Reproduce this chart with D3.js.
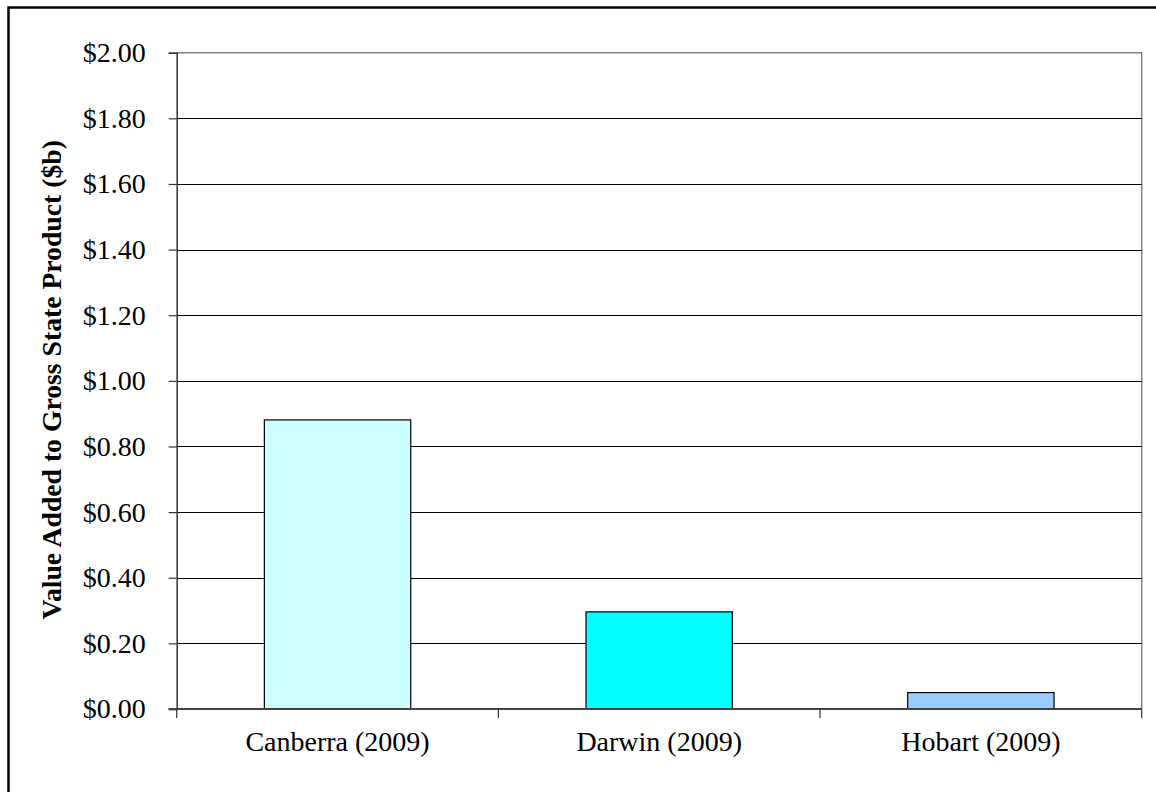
<!DOCTYPE html>
<html>
<head>
<meta charset="utf-8">
<script src="https://cdn.jsdelivr.net/npm/d3@7"></script>
<style>
  html, body { margin: 0; padding: 0; background: #fff; }
  svg { display: block; }
  text { font-family: "Liberation Serif", "Times New Roman", serif; fill: #000; }
</style>
</head>
<body>
<svg id="chart" width="1156" height="792"></svg>
<script>
// Value added to gross state product, $ billions
const categories = ["Canberra (2009)", "Darwin (2009)", "Hobart (2009)"];
const values = [0.881, 0.296, 0.050];
const barColors = ["#CCFFFF", "#00FFFF", "#99CCFF"];
const yTicks = [0, 0.2, 0.4, 0.6, 0.8, 1.0, 1.2, 1.4, 1.6, 1.8, 2.0];
const yTitle = "Value Added to Gross State Product ($b)";

const svg = d3.select("#chart");
const plot = { left: 176.7, right: 1141.7, top: 52.7, bottom: 709 };
const fontSize = 28;

// outer frame
svg.append("rect")
  .attr("x", 8.5).attr("y", 7.5)
  .attr("width", 1160).attr("height", 800)
  .attr("fill", "none").attr("stroke", "#000").attr("stroke-width", 2.5);

const x = d3.scaleBand().domain(categories)
  .range([plot.left, plot.right]).paddingInner(0.545).paddingOuter(0.2725);
const xOuter = d3.scaleBand().domain(categories).range([plot.left, plot.right]);
const y = d3.scaleLinear().domain([0, 2]).range([plot.bottom, plot.top]);

// plot border (top and right)
svg.append("path")
  .attr("d", `M${plot.left},${plot.top}H${plot.right}V${plot.bottom}`)
  .attr("fill", "none").attr("stroke", "#808080").attr("stroke-width", 1.5);

// horizontal gridlines
svg.append("g").selectAll("line").data(yTicks.filter(d => d > 0 && d < 2)).join("line")
  .attr("x1", plot.left).attr("x2", plot.right)
  .attr("y1", d => Math.round(y(d)) + 0.5).attr("y2", d => Math.round(y(d)) + 0.5)
  .attr("stroke", "#000").attr("stroke-width", 1);

// bars
svg.append("g").selectAll("rect").data(values).join("rect")
  .attr("x", (d, i) => x(categories[i]))
  .attr("width", x.bandwidth())
  .attr("y", d => y(d))
  .attr("height", d => y(0) - y(d))
  .attr("fill", (d, i) => barColors[i])
  .attr("stroke", "#000").attr("stroke-width", 1.2);

// y axis
const yAxis = svg.append("g").attr("transform", `translate(${plot.left},0)`)
  .call(d3.axisLeft(y).tickValues(yTicks).tickSize(8).tickPadding(23)
    .tickFormat(d => "$" + d3.format(".2f")(d)));
yAxis.select(".domain").attr("stroke", "#333").attr("stroke-width", 1.5);
yAxis.selectAll(".tick line").attr("stroke", "#333").attr("stroke-width", 1.2);
yAxis.selectAll("text").attr("font-size", fontSize).attr("font-family", "Liberation Serif").attr("fill", "#000");

// x axis
const xAxisG = svg.append("g").attr("transform", `translate(0,${plot.bottom})`);
xAxisG.append("line").attr("x1", plot.left - 8).attr("x2", plot.right)
  .attr("stroke", "#444").attr("stroke-width", 2);
const boundaries = categories.map(c => xOuter(c)).concat([plot.right]);
xAxisG.selectAll("line.tk").data(boundaries).join("line").attr("class", "tk")
  .attr("x1", d => d).attr("x2", d => d).attr("y1", 0).attr("y2", 9)
  .attr("stroke", "#333").attr("stroke-width", 1.2);
xAxisG.selectAll("text").data(categories).join("text")
  .attr("x", d => xOuter(d) + xOuter.bandwidth() / 2)
  .attr("y", 42)
  .attr("text-anchor", "middle")
  .attr("font-size", fontSize)
  .text(d => d);

// y title
svg.append("text")
  .attr("transform", `translate(61,${(plot.top + plot.bottom) / 2 - 1}) rotate(-90)`)
  .attr("text-anchor", "middle")
  .attr("font-size", 27.7)
  .attr("font-weight", "bold")
  .text(yTitle);
</script>
</body>
</html>
